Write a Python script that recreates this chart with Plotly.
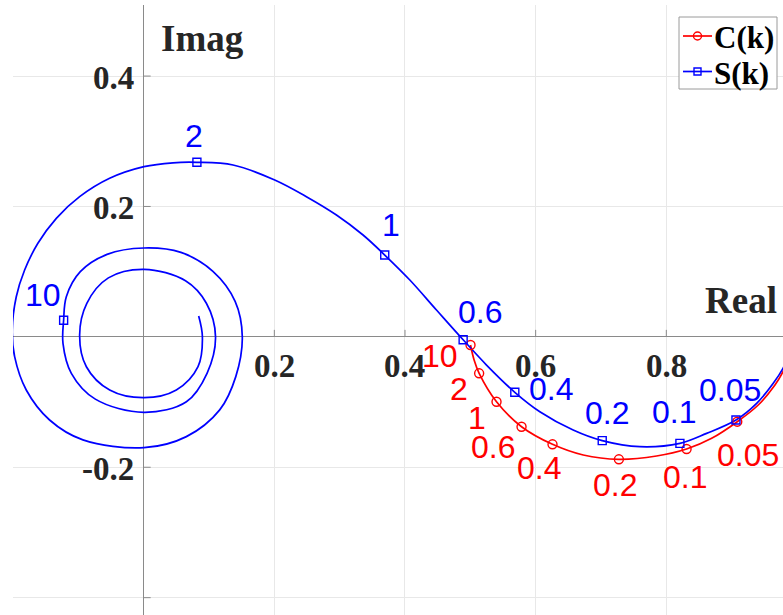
import plotly.graph_objects as go

# Reduced frequencies at which the two functions are marked
k_labels = ["0.05", "0.1", "0.2", "0.4", "0.6", "1", "2", "10"]

# Theodorsen function C(k) at the marked frequencies
C_mark_re = [0.9086, 0.8310, 0.7274, 0.6258, 0.5784, 0.5401, 0.5135, 0.5003]
C_mark_im = [-0.1301, -0.1720, -0.1878, -0.1648, -0.1378, -0.0995, -0.0559, -0.0125]

# Sears function S(k) at the marked frequencies
S_mark_re = [0.9066, 0.8208, 0.7019, 0.5681, 0.4890, 0.3690, 0.0815, -0.1225]
S_mark_im = [-0.1275, -0.1633, -0.1592, -0.0850, -0.0045, 0.1255, 0.2677, 0.0254]

# C(k) curve, k from 0 to 10
C_re = [1.0, 0.9786, 0.9663, 0.9407, 0.9086, 0.8694, 0.8310, 0.7851, 0.7274,
        0.6728, 0.6258, 0.5784, 0.5401, 0.5135, 0.5058, 0.5003]
C_im = [0.0, -0.0534, -0.0739, -0.1045, -0.1301, -0.1556, -0.1720, -0.1827,
        -0.1878, -0.1812, -0.1648, -0.1378, -0.0995, -0.0559, -0.0355, -0.0125]

# S(k) curve, k from 0 to 20 (spirals in towards the origin)
S_re = [1.0, 0.9786, 0.9637, 0.9383, 0.9066, 0.8617, 0.8208, 0.7596, 0.7019,
        0.6574, 0.6064, 0.5681, 0.5248, 0.4890, 0.4482, 0.4074, 0.3690, 0.3358,
        0.2951, 0.2491, 0.2006, 0.1368, 0.0815, 0.0449, 0.0005, -0.0521, -0.0980,
        -0.1337, -0.1619, -0.1822, -0.1950, -0.2011, -0.1975, -0.1797, -0.1440,
        -0.0930, 0.0005, 0.0654, 0.1164, 0.1410, 0.1510, 0.1400, 0.1060, 0.0570,
        0.0005, -0.0560, -0.0970, -0.1184, -0.1225, -0.1235, -0.1107, -0.0740,
        0.0005, 0.0654, 0.0970, 0.1100, 0.0960, 0.0640, 0.0005, -0.0540, -0.0870,
        -0.0980, -0.0877, -0.0520, 0.0005, 0.0500, 0.0832, 0.0899, 0.0842]
S_im = [0.0, -0.0483, -0.0712, -0.1020, -0.1275, -0.1480, -0.1633, -0.1685,
        -0.1592, -0.1429, -0.1148, -0.0850, -0.0432, -0.0045, 0.0412, 0.0872,
        0.1255, 0.1562, 0.1869, 0.2150, 0.2406, 0.2636, 0.2677, 0.2670, 0.2610,
        0.2432, 0.2150, 0.1818, 0.1435, 0.1025, 0.0616, 0.0105, -0.0304, -0.0815,
        -0.1275, -0.1580, -0.1700, -0.1530, -0.1120, -0.0610, 0.0000, 0.0545,
        0.1005, 0.1295, 0.1363, 0.1265, 0.1000, 0.0616, 0.0254, -0.0099, -0.0559,
        -0.0955, -0.1157, -0.0995, -0.0559, 0.0000, 0.0515, 0.0860, 0.1036,
        0.0905, 0.0515, 0.0028, -0.0458, -0.0815, -0.0933, -0.0815, -0.0458,
        0.0000, 0.0320]

# Axis tick labels
x_ticks = [0.2, 0.4, 0.6, 0.8]
x_tick_text = ["0.2", "0.4", "0.6", "0.8"]
y_ticks = [0.4, 0.2, -0.2]
y_tick_text = ["0.4", "0.2", "-0.2"]
y_tick_marks = [-0.4, -0.2, 0.2, 0.4]

# Legend entries
legend_names = ["C(k)", "S(k)"]

RED = "#ff0000"
BLUE = "#0000ff"
AXIS_GRAY = "#8a8a8a"
TEXT = "#262626"
SERIF = "Liberation Serif, Times New Roman, serif"
SANS = "Liberation Sans, Arial, Helvetica, sans-serif"
LW = 1.7

W, H = 783, 615
ML, MT = 13, 5


def px(xp):
    """Horizontal pixel position -> paper fraction."""
    return (xp - ML) / (W - ML)


def py(yp):
    """Vertical pixel position (from top) -> paper fraction."""
    return (H - yp) / (H - MT)


fig = go.Figure()

# Curves
fig.add_trace(go.Scatter(x=C_re, y=C_im, mode="lines",
                         line=dict(color=RED, width=LW, shape="spline", smoothing=1.0),
                         showlegend=False, hoverinfo="skip"))
fig.add_trace(go.Scatter(x=S_re, y=S_im, mode="lines",
                         line=dict(color=BLUE, width=LW, shape="spline", smoothing=1.0),
                         showlegend=False, hoverinfo="skip"))
# Markers at the labelled frequencies
fig.add_trace(go.Scatter(x=C_mark_re, y=C_mark_im, mode="markers",
                         marker=dict(symbol="circle-open", size=9, color=RED, line=dict(width=1.4)),
                         text=k_labels, name="C(k)", showlegend=False))
fig.add_trace(go.Scatter(x=S_mark_re, y=S_mark_im, mode="markers",
                         marker=dict(symbol="square-open", size=8, color=BLUE, line=dict(width=1.4)),
                         text=k_labels, name="S(k)", showlegend=False))

annotations = []

# Frequency labels next to the markers (pixel offsets from each marker)
S_label_shift = {"0.05": (-6, 30), "0.1": (-6, 31), "0.2": (5, 28), "0.4": (36, 3),
                 "0.6": (17, 28), "1": (6, 30), "2": (-3, 26), "10": (-21, 25)}
C_label_shift = {"0.05": (11, -33), "0.1": (-2, -28), "0.2": (-4, -26), "0.4": (-14, -24),
                 "0.6": (-29, -20), "1": (-20, -16), "2": (-20, -16), "10": (-31, -11)}
for lab, xr, yi in zip(k_labels, S_mark_re, S_mark_im):
    dx, dy = S_label_shift[lab]
    annotations.append(dict(x=xr, y=yi, text=lab, showarrow=False, xshift=dx, yshift=dy,
                            xanchor="center", yanchor="middle",
                            font=dict(family=SANS, size=32, color=BLUE)))
for lab, xr, yi in zip(k_labels, C_mark_re, C_mark_im):
    dx, dy = C_label_shift[lab]
    annotations.append(dict(x=xr, y=yi, text=lab, showarrow=False, xshift=dx, yshift=dy,
                            xanchor="center", yanchor="middle",
                            font=dict(family=SANS, size=32, color=RED)))

# Tick labels placed next to the axes crossing at the origin
for xv, t in zip(x_ticks, x_tick_text):
    annotations.append(dict(x=xv, y=0, text="<b>%s</b>" % t, showarrow=False, xanchor="center",
                            yanchor="middle", yshift=-29, font=dict(family=SERIF, size=33, color=TEXT)))
for yv, t in zip(y_ticks, y_tick_text):
    annotations.append(dict(x=0, y=yv, text="<b>%s</b>" % t, showarrow=False, xanchor="right",
                            yanchor="middle", xshift=-8, yshift=-2,
                            font=dict(family=SERIF, size=33, color=TEXT)))

# Axis names
annotations.append(dict(x=px(202), y=py(39), xref="paper", yref="paper", text="<b>Imag</b>",
                        showarrow=False, xanchor="center", yanchor="middle",
                        font=dict(family=SERIF, size=37, color=TEXT)))
annotations.append(dict(x=px(741), y=py(300), xref="paper", yref="paper", text="<b>Real</b>",
                        showarrow=False, xanchor="center", yanchor="middle",
                        font=dict(family=SERIF, size=37, color=TEXT)))

shapes = []
# Small inward ticks on the axes
for xv in x_ticks:
    shapes.append(dict(type="line", xref="x", yref="y", x0=xv, x1=xv, ysizemode="pixel", yanchor=0,
                       y0=0, y1=7, line=dict(color=AXIS_GRAY, width=1)))
for yv in y_tick_marks:
    shapes.append(dict(type="line", xref="x", yref="y", y0=yv, y1=yv, xsizemode="pixel", xanchor=0,
                       x0=0, x1=7, line=dict(color=AXIS_GRAY, width=1)))

# Legend box in the top-right corner
shapes.append(dict(type="rect", xref="paper", yref="paper", x0=px(679), x1=px(777),
                   y0=py(89), y1=py(17), fillcolor="white", line=dict(color="#9a9a9a", width=1),
                   layer="above"))
legend_rows = [(36, RED, "circle"), (71.5, BLUE, "rect")]
for name, (row_y, col, sym) in zip(legend_names, legend_rows):
    shapes.append(dict(type="line", xref="paper", yref="paper", x0=px(683), x1=px(712),
                       y0=py(row_y), y1=py(row_y), line=dict(color=col, width=LW), layer="above"))
    half = 4 if sym == "circle" else 3.5
    shapes.append(dict(type=sym, xref="paper", yref="paper", xsizemode="pixel", ysizemode="pixel",
                       xanchor=px(697.5), yanchor=py(row_y), x0=-half, x1=half, y0=-half, y1=half,
                       line=dict(color=col, width=1.4), fillcolor="rgba(0,0,0,0)", layer="above"))
    annotations.append(dict(x=px(712), y=py(row_y + 2), xref="paper", yref="paper",
                            text="<b>%s</b>" % name, showarrow=False, xanchor="left",
                            yanchor="middle", font=dict(family=SERIF, size=31, color="black")))

fig.update_layout(
    width=W, height=H,
    margin=dict(l=ML, r=0, t=MT, b=0),
    paper_bgcolor="white", plot_bgcolor="white",
    showlegend=False,
    annotations=annotations,
    shapes=shapes,
    xaxis=dict(range=[-0.2, 0.9786], dtick=0.2, tick0=0, showgrid=True, gridcolor="#e8e8e8",
               gridwidth=1, zeroline=True, zerolinecolor=AXIS_GRAY, zerolinewidth=1,
               showticklabels=False, ticks="", showline=False, fixedrange=True),
    yaxis=dict(range=[-0.4266, 0.509], dtick=0.2, tick0=0, showgrid=True, gridcolor="#e8e8e8",
               gridwidth=1, zeroline=True, zerolinecolor=AXIS_GRAY, zerolinewidth=1,
               showticklabels=False, ticks="", showline=False, fixedrange=True),
)

fig.write_html("out.html")
